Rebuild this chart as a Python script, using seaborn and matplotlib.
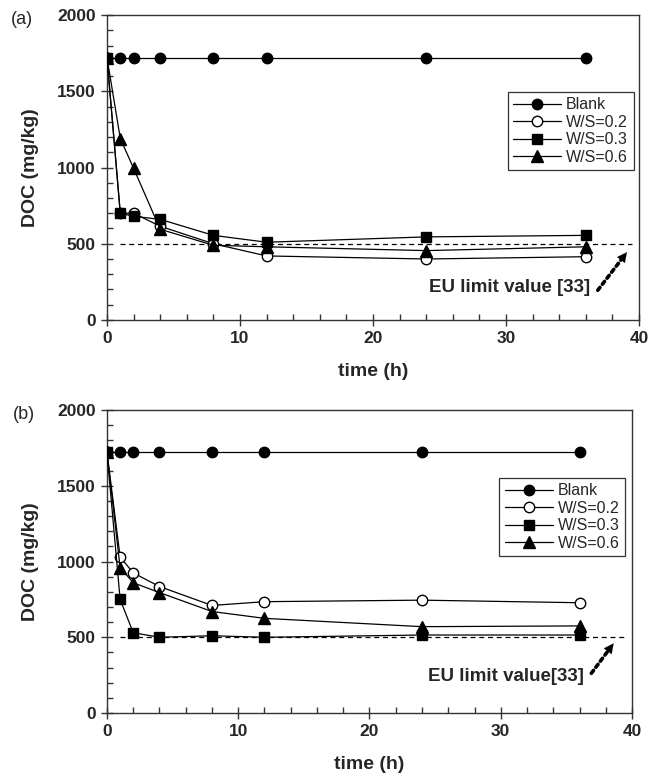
import matplotlib
matplotlib.use('Agg')
import matplotlib.pyplot as plt
from matplotlib.ticker import MultipleLocator
import seaborn as sns
import pandas as pd

'''
Data read from the reference figure
'''

time_h = [0, 1, 2, 4, 8, 12, 24, 36]

# Panel (a)
a_blank = [1720, 1720, 1720, 1720, 1720, 1720, 1720, 1720]
a_ws02 = [1720, 700, 700, 615, 500, 420, 400, 415]
a_ws03 = [1720, 700, 680, 660, 555, 510, 545, 555]
a_ws06 = [1720, 1190, 995, 595, 490, 480, 455, 480]

# Panel (b)
b_blank = [1720, 1720, 1720, 1720, 1720, 1720, 1720, 1720]
b_ws02 = [1720, 1030, 925, 835, 710, 735, 745, 728]
b_ws03 = [1720, 750, 530, 500, 510, 500, 515, 515]
b_ws06 = [1720, 960, 860, 795, 670, 625, 570, 575]

series_names = ['Blank', 'W/S=0.2', 'W/S=0.3', 'W/S=0.6']
limit_value = 500
limit_span = [1, 39.5]
eu_texts = ['EU limit value [33]', 'EU limit value[33]']
panel_tags = ['(a)', '(b)']

'''
Style
'''

sns.set_style('ticks')
plt.rcParams['font.family'] = ['Liberation Sans', 'DejaVu Sans']
plt.rcParams['font.size'] = 10

markers = {'Blank': ('o', 'black'), 'W/S=0.2': ('o', 'white'),
           'W/S=0.3': ('s', 'black'), 'W/S=0.6': ('^', 'black')}

fig = plt.figure(figsize=(6.58, 7.78), dpi=100)
ax_a = fig.add_axes([0.1626, 0.5887, 0.8085, 0.392])
ax_b = fig.add_axes([0.1626, 0.0835, 0.7979, 0.3895])


def draw_panel(ax, data, tag, eu_text, text_y, arrow_from, arrow_to, leg_anchor):
    df = pd.DataFrame(data)
    df['time'] = time_h

    ax.hlines(limit_value, limit_span[0], limit_span[1], colors='black',
              linestyles=(0, (4, 3)), linewidth=0.9, zorder=1)

    for name in series_names:
        m, fc = markers[name]
        ms = 8 if m == '^' else 7.5
        sns.lineplot(data=df, x='time', y=name, ax=ax, color='black',
                     marker=m, markersize=ms, markerfacecolor=fc,
                     markeredgecolor='black', markeredgewidth=1.0,
                     linewidth=0.9, label=name, zorder=3)

    ax.set_xlim(0, 40)
    ax.set_ylim(0, 2000)
    ax.xaxis.set_major_locator(MultipleLocator(10))
    ax.xaxis.set_minor_locator(MultipleLocator(2))
    ax.yaxis.set_major_locator(MultipleLocator(500))
    ax.yaxis.set_minor_locator(MultipleLocator(100))
    ax.tick_params(which='major', direction='inout', length=8, width=1,
                   color='#333333', labelsize=12.5, pad=4)
    ax.tick_params(which='minor', direction='in', length=4, width=1,
                   color='#333333')
    for lab in ax.get_xticklabels() + ax.get_yticklabels():
        lab.set_fontweight('bold')
    for sp in ax.spines.values():
        sp.set_visible(True)
        sp.set_color('#333333')
        sp.set_linewidth(1.0)

    ax.set_xlabel('time (h)', fontsize=14, fontweight='bold', labelpad=12)
    ax.set_ylabel('DOC (mg/kg)', fontsize=14, fontweight='bold', labelpad=13)

    ax.text(36.3, text_y, eu_text, ha='right', va='center',
            fontsize=13.5, fontweight='bold')

    # dotted shaft + solid head
    ax.annotate('', xy=arrow_to, xytext=arrow_from,
                arrowprops=dict(arrowstyle='-', linestyle=(0, (1, 1.1)),
                                lw=2.6, color='black', shrinkA=0, shrinkB=5))
    ax.annotate('', xy=arrow_to, xytext=arrow_from,
                arrowprops=dict(arrowstyle='-|>,head_length=0.5,head_width=0.25',
                                lw=0.1, color='black', mutation_scale=14,
                                shrinkA=30, shrinkB=0))

    ax.text(-0.18, 0.985, tag, transform=ax.transAxes, fontsize=13,
            ha='left', va='center')

    leg = ax.legend(loc='upper right', bbox_to_anchor=leg_anchor,
                    frameon=True, fancybox=False, edgecolor='black',
                    fontsize=11.5, handlelength=3.0, handletextpad=0.3,
                    labelspacing=0.15, borderpad=0.35, borderaxespad=0)
    leg.get_frame().set_linewidth(0.9)


draw_panel(ax_a, {'Blank': a_blank, 'W/S=0.2': a_ws02, 'W/S=0.3': a_ws03,
                  'W/S=0.6': a_ws06},
           panel_tags[0], eu_texts[0], 215, (36.9, 195), (39.1, 445),
           (0.99, 0.748))
draw_panel(ax_b, {'Blank': b_blank, 'W/S=0.2': b_ws02, 'W/S=0.3': b_ws03,
                  'W/S=0.6': b_ws06},
           panel_tags[1], eu_texts[1], 238, (36.9, 262), (38.6, 460),
           (0.987, 0.776))

fig.savefig('out.png', dpi=100)
